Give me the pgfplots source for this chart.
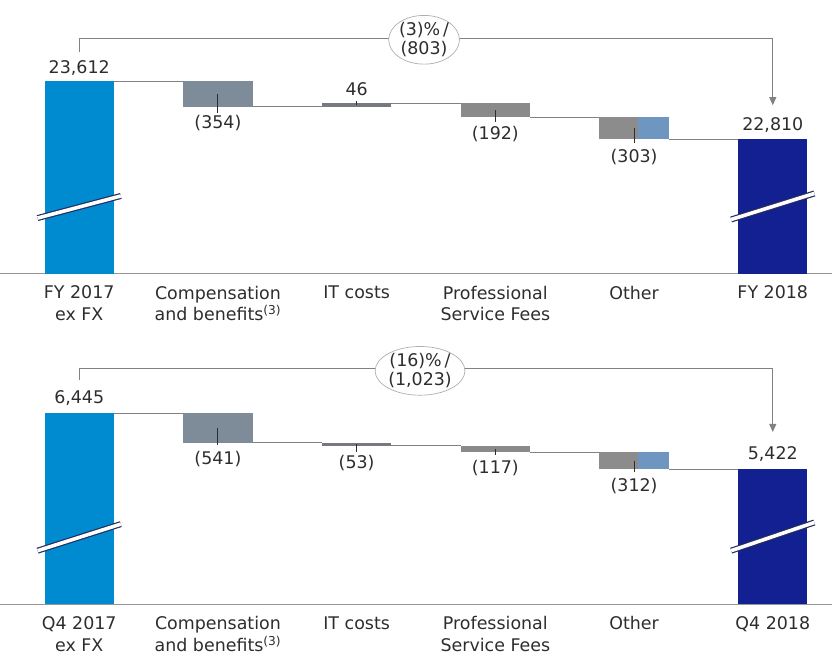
\documentclass[border=0pt]{standalone}
\usepackage{fontspec}
\setmainfont{DejaVu Sans}
\usepackage{pgfplots}
\pgfplotsset{compat=1.18}
\usepackage{pgfplotstable}
\usetikzlibrary{shapes.geometric, arrows.meta}

\definecolor{startblue}{RGB}{0,139,208}
\definecolor{endblue}{RGB}{18,32,145}
\definecolor{compcol}{RGB}{126,140,154}
\definecolor{itcol}{RGB}{118,122,128}
\definecolor{psfcol}{RGB}{138,138,138}
\definecolor{othgray}{RGB}{140,140,140}
\definecolor{othblue}{RGB}{110,150,192}
\definecolor{linecol}{RGB}{130,130,130}
\definecolor{axiscol}{RGB}{150,150,150}
\definecolor{ellcol}{RGB}{175,175,175}
\definecolor{textcol}{RGB}{45,45,45}
\definecolor{breakedge}{RGB}{35,45,95}

\newcommand\lbl{\fontsize{17.5}{22}\selectfont}

% Waterfall steps: invisible base, then the visible pieces.
% The "Other" step is split in two halves; the right half sits in
% its own small stack (othbase + othR) in a separate axis.
\pgfplotstableread{
x  base   start  comp  it   psf  othL  finish
0  0      23612  0     0    0    0     0
1  23258  0      354   0    0    0     0
2  23258  0      0     46   0    0     0
3  23112  0      0     0    192  0     0
4  22809  0      0     0    0    303   0
5  0      0      0     0    0    0     22810
}\fyData
\pgfplotstableread{
x  othbase  othR
4  22809    303
}\fyOther

\pgfplotstableread{
x  base   start  comp  it   psf  othL  finish
0  0      6445   0     0    0    0     0
1  5904   0      541   0    0    0     0
2  5851   0      0     53   0    0     0
3  5734   0      0     0    117  0     0
4  5422   0      0     0    0    312   0
5  0      0      0     0    0    0     5422
}\qData
\pgfplotstableread{
x  othbase  othR
4  5422     312
}\qOther

\pgfplotsset{
  panel/.style={scale only axis, width=832bp, height=273bp,
    xmin=-0.571, xmax=5.427, anchor=south west},
  bars/.style={panel, clip=true, ybar stacked, bar width=0.5, stacked ignores zero,
    axis x line=bottom, axis y line=none,
    x axis line style={-, draw=axiscol, line width=0.9bp},
    xtick={0,...,5}, major tick length=0pt,
    xticklabel style={font=\lbl, text=textcol, align=center, yshift=-9bp}},
  halfbars/.style={panel, clip=true, ybar stacked, bar width=0.225, bar shift=0.1375,
    axis lines=none, ticks=none},
  annot/.style={panel, clip=false, axis lines=none, ticks=none},
  conn/.style={linecol, line width=0.8bp, no markers, sharp plot},
  tickline/.style={textcol, line width=0.9bp, no markers, sharp plot},
  bracket/.style={linecol, line width=0.8bp, no markers, sharp plot},
  breakdark/.style={breakedge, line width=6bp, no markers, sharp plot},
  breaklight/.style={white, line width=3.6bp, no markers, sharp plot},
}
\tikzset{val/.style={font=\lbl, text=textcol},
  bubble/.style={ellipse, draw=ellcol, line width=0.7bp, fill=white, inner sep=0pt,
    align=center, font=\fontsize{17.5}{19}\selectfont, text=textcol}}

\begin{document}
\begin{tikzpicture}
\useasboundingbox (0bp,0bp) rectangle (832bp,659bp);

% ---------- FY panel ----------
\begin{axis}[bars, at={(0bp,385.7bp)},
  ymin=20956, ymax=24731,
  xticklabels={{FY 2017\\ex FX},{Compensation\\and benefits\textsuperscript{(3)}},IT costs,{Professional\\Service Fees},Other,FY 2018}]
\addplot[draw=none, fill=none] table[x=x, y=base]{\fyData};
\addplot[draw=none, fill=startblue] table[x=x, y=start]{\fyData};
\addplot[draw=none, fill=compcol] table[x=x, y=comp]{\fyData};
\addplot[draw=none, fill=itcol] table[x=x, y=it]{\fyData};
\addplot[draw=none, fill=psfcol] table[x=x, y=psf]{\fyData};
\addplot[draw=none, fill=othgray, bar width=0.275, bar shift=-0.1125] table[x=x, y=othL]{\fyData};
\addplot[draw=none, fill=endblue] table[x=x, y=finish]{\fyData};
\end{axis}

\begin{axis}[halfbars, at={(0bp,385.7bp)}, ymin=20956, ymax=24731]
\addplot[draw=none, fill=none] table[x=x, y=othbase]{\fyOther};
\addplot[draw=none, fill=othblue] table[x=x, y=othR]{\fyOther};
\end{axis}

\begin{axis}[annot, at={(0bp,385.7bp)}, ymin=20956, ymax=24731]
\addplot[conn] coordinates {(0.25,23612) (0.75,23612)};
\addplot[conn] coordinates {(1.25,23258) (1.75,23258)};
\addplot[conn] coordinates {(2.25,23304) (2.75,23304)};
\addplot[conn] coordinates {(3.25,23112) (3.75,23112)};
\addplot[conn] coordinates {(4.25,22809) (4.75,22809)};
\addplot[tickline] coordinates {(1,23435) (1,23170)};
\addplot[tickline] coordinates {(2,23281) (2,23340)};
\addplot[tickline] coordinates {(3,23208) (3,23046)};
\addplot[tickline] coordinates {(4,22960) (4,22756)};
\addplot[breakdark] coordinates {(-0.3,21720) (0.3,22025)};
\addplot[breaklight] coordinates {(-0.3,21720) (0.3,22025)};
\addplot[breakdark] coordinates {(4.7,21700) (5.3,22060)};
\addplot[breaklight] coordinates {(4.7,21700) (5.3,22060)};
\addplot[bracket, -{Triangle[length=8bp, width=7bp]}] coordinates {(0,24012) (0,24206) (5,24206) (5,23280)};
\node[bubble] at (2.486,24185) {(3)\%\,/\\(803)};
\node[val] at (0,23795) {23,612};
\node[val] at (1,23030) {(354)};
\node[val] at (2,23500) {46};
\node[val] at (3,22875) {(192)};
\node[val] at (4,22570) {(303)};
\node[val] at (5,23010) {22,810};
\end{axis}

% ---------- Q4 panel ----------
\begin{axis}[bars, at={(0bp,55bp)},
  ymin=2961, ymax=7948,
  xticklabels={{Q4 2017\\ex FX},{Compensation\\and benefits\textsuperscript{(3)}},IT costs,{Professional\\Service Fees},Other,Q4 2018}]
\addplot[draw=none, fill=none] table[x=x, y=base]{\qData};
\addplot[draw=none, fill=startblue] table[x=x, y=start]{\qData};
\addplot[draw=none, fill=compcol] table[x=x, y=comp]{\qData};
\addplot[draw=none, fill=itcol] table[x=x, y=it]{\qData};
\addplot[draw=none, fill=psfcol] table[x=x, y=psf]{\qData};
\addplot[draw=none, fill=othgray, bar width=0.275, bar shift=-0.1125] table[x=x, y=othL]{\qData};
\addplot[draw=none, fill=endblue] table[x=x, y=finish]{\qData};
\end{axis}

\begin{axis}[halfbars, at={(0bp,55bp)}, ymin=2961, ymax=7948]
\addplot[draw=none, fill=none] table[x=x, y=othbase]{\qOther};
\addplot[draw=none, fill=othblue] table[x=x, y=othR]{\qOther};
\end{axis}

\begin{axis}[annot, at={(0bp,55bp)}, ymin=2961, ymax=7948]
\addplot[conn] coordinates {(0.25,6445) (0.75,6445)};
\addplot[conn] coordinates {(1.25,5904) (1.75,5904)};
\addplot[conn] coordinates {(2.25,5851) (2.75,5851)};
\addplot[conn] coordinates {(3.25,5734) (3.75,5734)};
\addplot[conn] coordinates {(4.25,5422) (4.75,5422)};
\addplot[tickline] coordinates {(1,6174) (1,5866)};
\addplot[tickline] coordinates {(2,5877) (2,5738)};
\addplot[tickline] coordinates {(3,5792) (3,5683)};
\addplot[tickline] coordinates {(4,5578) (4,5373)};
\addplot[breakdark] coordinates {(-0.3,3935) (0.3,4420)};
\addplot[breaklight] coordinates {(-0.3,3935) (0.3,4420)};
\addplot[breakdark] coordinates {(4.7,3935) (5.3,4450)};
\addplot[breaklight] coordinates {(4.7,3935) (5.3,4450)};
\addplot[bracket, -{Triangle[length=8bp, width=7bp]}] coordinates {(0,7053) (0,7273) (5,7273) (5,6103)};
\node[bubble] at (2.457,7220) {(16)\%\,/\\(1,023)};
\node[val] at (0,6730) {6,445};
\node[val] at (1,5610) {(541)};
\node[val] at (2,5535) {(53)};
\node[val] at (3,5445) {(117)};
\node[val] at (4,5115) {(312)};
\node[val] at (5,5700) {5,422};
\end{axis}
\end{tikzpicture}
\end{document}
